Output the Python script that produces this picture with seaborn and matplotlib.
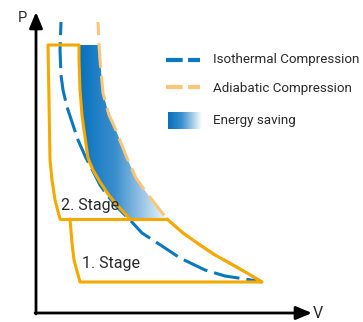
import numpy as np
import matplotlib
matplotlib.use("Agg")
import matplotlib.pyplot as plt
import seaborn as sns
from matplotlib.colors import LinearSegmentedColormap
from matplotlib.patches import Polygon

# values: V to the right, P upward (arbitrary units)
p_low, p_mid, p_high = 31, 94, 268

# isothermal compression (dashed blue), top to bottom
iso_v = [25, 24, 25, 27, 31, 36, 42, 50, 59, 64, 71, 82, 94, 106, 126, 144, 169, 189, 209, 226]
iso_p = [291, 263, 238, 223, 206, 191, 173, 155, 138, 128, 118, 105, 93, 80, 67, 55, 43, 37, 34, 31]

# single stage adiabatic compression (dashed light orange), top to bottom
adia_v = [62, 63, 64, 67, 73, 79, 91, 100, 110, 120, 131, 147, 164, 179, 197, 211, 226]
adia_p = [291, 268, 253, 220, 198, 185, 155, 135, 121, 108, 94, 80, 68, 58, 48, 40, 31]

# 2. stage adiabatic (solid orange), top to bottom
st2_v = [43, 43, 44, 46, 48, 52, 57, 64, 72, 80, 94]
st2_p = [268, 253, 223, 198, 183, 155, 143, 131, 119, 109, 94]

# left (suction) sides of the two stages, bottom to top
st2_left_v = [24, 19, 16, 14, 13, 12]
st2_left_p = [94, 113, 133, 153, 213, 268]
st1_left_v = [34, 36, 38, 44]
st1_left_p = [94, 70, 53, 31]

legend_labels = ["Isothermal Compression", "Adiabatic Compression", "Energy saving"]
stage_labels = ["2. Stage", "1. Stage"]

blue = "#0a78c0"
orange = "#f5a800"
light_orange = "#fcc57a"
text_col = "#2a2a2a"

sns.set_theme(style="white")
plt.rcParams["font.family"] = ["Roboto", "DejaVu Sans"]

fig = plt.figure(figsize=(3.63, 3.22), dpi=100)
ax = fig.add_axes([0, 0, 1, 1])

saving_cmap = LinearSegmentedColormap.from_list(
    "saving", [(0, "#0570bd"), (0.4, "#3a8fcd"), (1, "#ffffff")])
grad = np.linspace(0, 1, 256).reshape(1, -1)

# energy saving band between the 2-stage adiabat and the single stage adiabat
adia_v_arr = np.array(adia_v)
adia_p_arr = np.array(adia_p)
upper = (adia_p_arr <= p_high) & (adia_p_arr >= p_mid)
band = np.column_stack([np.r_[st2_v, adia_v_arr[upper][::-1]],
                        np.r_[st2_p, adia_p_arr[upper][::-1]]])
band_patch = Polygon(band, closed=True, facecolor="none", edgecolor="none")
ax.add_patch(band_patch)
im = ax.imshow(grad, cmap=saving_cmap, extent=(42, 135, p_mid, p_high),
               aspect="auto", zorder=1, interpolation="bilinear")
im.set_clip_path(band_patch)

# reference curves
sns.lineplot(x=adia_v, y=adia_p, sort=False, estimator=None, ax=ax, color=light_orange,
             lw=2.2, linestyle=(3.7, (8, 2.7)), zorder=2)
sns.lineplot(x=iso_v, y=iso_p, sort=False, estimator=None, ax=ax, color=blue,
             lw=2.2, linestyle=(4.2, (8.5, 2.3)), zorder=3)

# stage outlines
lower = adia_p_arr <= p_mid
s2_v = st2_left_v + [st2_v[0]] + st2_v
s2_p = st2_left_p + [p_high] + st2_p
sns.lineplot(x=s2_v, y=s2_p, sort=False, estimator=None, ax=ax, color=orange, lw=2.2, zorder=4)
sns.lineplot(x=[st2_left_v[0], adia_v_arr[lower][0]], y=[p_mid, p_mid], sort=False,
             estimator=None, ax=ax, color=orange, lw=2.2, zorder=4)
s1_v = st1_left_v + list(adia_v_arr[lower][::-1])
s1_p = st1_left_p + list(adia_p_arr[lower][::-1])
sns.lineplot(x=s1_v, y=s1_p, sort=False, estimator=None, ax=ax, color=orange, lw=2.2, zorder=4)

ax.text(25, 103, stage_labels[0], fontsize=11.5, color=text_col, va="baseline", zorder=5)
ax.text(46, 45, stage_labels[1], fontsize=11.5, color=text_col, va="baseline", zorder=5)

# axes arrows
arrow = dict(arrowstyle="-|>,head_length=0.6,head_width=0.25", lw=2, color="black",
             mutation_scale=16, shrinkA=0, shrinkB=0)
ax.annotate("", xy=(0, 301), xytext=(0, -1), arrowprops=arrow)
ax.annotate("", xy=(276, 0), xytext=(-1, 0), arrowprops=arrow)
ax.text(-14, 295, "P", fontsize=10.5, color=text_col, ha="center", va="center")
ax.text(282, 0, "V", fontsize=11.5, color=text_col, ha="center", va="center")

# legend
ax.plot([130, 164], [253, 253], color=blue, lw=3, linestyle=(0, (4, 1.3)))
ax.plot([130, 164], [226, 226], color=light_orange, lw=3, linestyle=(0, (4, 1.3)))
ax.imshow(grad, cmap=saving_cmap, extent=(132, 166, 184, 201), aspect="auto",
          interpolation="bilinear")
for lab, p in zip(legend_labels, [250, 221, 189]):
    ax.text(177, p, lab, fontsize=9.6, color=text_col, va="baseline")

ax.set_xlim(-36, 327)
ax.set_ylim(-9, 313)
ax.axis("off")

fig.savefig("out.png", dpi=100)
